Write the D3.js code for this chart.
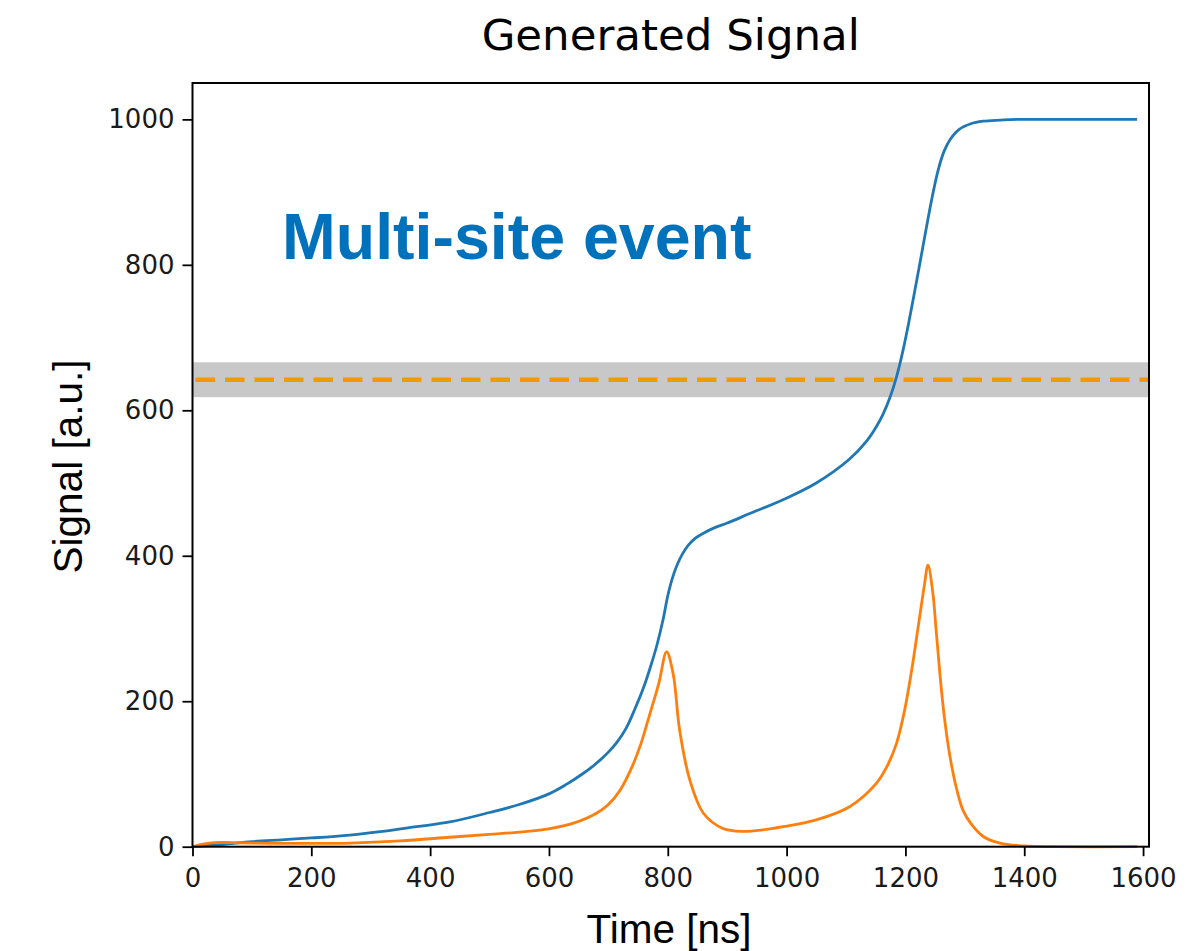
<!DOCTYPE html>
<html>
<head>
<meta charset="utf-8">
<script src="https://cdn.jsdelivr.net/npm/d3@7"></script>
<style>
  html, body { margin: 0; padding: 0; background: #fff; }
  svg { display: block; }
</style>
</head>
<body>
<svg id="chart" width="1189" height="951"></svg>
<script>
// Integrated charge (blue) sampled in time [ns]
const chargeTime = [0, 50, 100, 150, 200, 265, 320, 377, 433, 500, 550, 601, 630, 658, 672, 686, 700, 714, 730, 745, 758, 770, 782, 792, 800, 808, 816, 825, 835, 846, 860, 880, 900, 938, 994, 1050, 1106, 1135, 1150, 1162, 1175, 1185, 1195, 1205, 1215, 1225, 1235, 1245, 1255, 1265, 1275, 1290, 1310, 1331, 1360, 1387, 1450, 1520, 1590];
const chargeSignal = [0, 3, 7, 9.5, 12, 16, 21, 27.5, 34, 47, 58, 73, 86, 101, 109.5, 119, 130, 143, 163, 190, 216, 245, 278, 312, 345, 370, 388, 403, 415, 424, 431, 439, 445, 458, 477, 500, 533, 558, 576, 594, 620, 646, 679, 718, 761, 805, 850, 893, 930, 956, 972, 986, 994, 997.5, 999, 1000, 1000, 1000, 1000];

// Current pulse (orange) sampled in time [ns]
const currentTime = [0, 20, 45, 70, 100, 150, 200, 265, 350, 433, 500, 550, 602, 640, 680, 700, 720, 740, 755, 770, 785, 798, 809, 820, 837, 860, 893, 927, 960, 994, 1050, 1106, 1151, 1170, 1185, 1198, 1210, 1222, 1232, 1238, 1246, 1252, 1258, 1266, 1275, 1286, 1297, 1310, 1331, 1359, 1400, 1450, 1590];
const currentSignal = [0, 4, 6, 5.5, 5, 4.5, 4.5, 5, 8, 13, 17, 20, 25, 32, 46, 58, 78, 110, 142, 183, 225, 268, 238, 160, 92, 46, 25, 21, 23, 27.5, 37, 55, 87, 112, 142, 185, 240, 305, 360, 387, 350, 295, 238, 175, 124, 80, 50, 32, 14, 5, 1, 0, 0];

// Threshold level and its tolerance band
const thresholdLevel = 642;
const thresholdBand = [618, 666];

const xTicks = [0, 200, 400, 600, 800, 1000, 1200, 1400, 1600];
const yTicks = [0, 200, 400, 600, 800, 1000];

const titleText = "Generated Signal";
const xLabelText = "Time [ns]";
const yLabelText = "Signal [a.u.]";
const noteText = "Multi-site event";

const svg = d3.select("#chart");
const margin = { left: 192.5, top: 83, right: 1189 - 1149, bottom: 951 - 846.7 };
const W = 1189 - margin.left - margin.right;
const H = 951 - margin.top - margin.bottom;

const x = d3.scaleLinear().domain([0, 1610]).range([0, W]);
const y = d3.scaleLinear().domain([0, 1050]).range([H, 0]);

const g = svg.append("g").attr("transform", `translate(${margin.left},${margin.top})`);

// Threshold band and dashed level
g.append("rect")
  .attr("x", 0).attr("width", W)
  .attr("y", y(thresholdBand[1]))
  .attr("height", y(thresholdBand[0]) - y(thresholdBand[1]))
  .attr("fill", "#c8c8c8");

g.append("line")
  .attr("x1", 0).attr("x2", W)
  .attr("y1", y(thresholdLevel)).attr("y2", y(thresholdLevel))
  .attr("stroke", "#ee9a00")
  .attr("stroke-width", 4.5)
  .attr("stroke-dasharray", "19.5 10")
  .attr("stroke-dashoffset", -3);

// Signal curves
const smooth = d3.line().x(d => x(d[0])).y(d => y(d[1])).curve(d3.curveCatmullRom.alpha(0.5));

g.append("path")
  .datum(chargeTime.map((t, i) => [t, chargeSignal[i]]))
  .attr("fill", "none")
  .attr("stroke", "#1f77b4")
  .attr("stroke-width", 2.8)
  .attr("stroke-linejoin", "round")
  .attr("d", smooth);

g.append("path")
  .datum(currentTime.map((t, i) => [t, currentSignal[i]]))
  .attr("fill", "none")
  .attr("stroke", "#ff7f0e")
  .attr("stroke-width", 2.8)
  .attr("stroke-linejoin", "round")
  .attr("d", smooth);

// Axes
const xAxis = g.append("g")
  .attr("transform", `translate(0,${H})`)
  .call(d3.axisBottom(x).tickValues(xTicks).tickSize(9.5).tickPadding(12).tickFormat(d3.format("d")));
const yAxis = g.append("g")
  .call(d3.axisLeft(y).tickValues(yTicks).tickSize(10).tickPadding(8).tickFormat(d3.format("d")));

[xAxis, yAxis].forEach(a => {
  a.select(".domain").remove();
  a.selectAll(".tick line").attr("stroke", "#000").attr("stroke-width", 1.8);
  a.selectAll(".tick text")
    .attr("fill", "#1a1a1a")
    .style("font-family", "DejaVu Sans")
    .style("font-size", "26px");
});

// Frame
g.append("rect")
  .attr("x", 0).attr("y", 0).attr("width", W).attr("height", H)
  .attr("fill", "none")
  .attr("stroke", "#000")
  .attr("stroke-width", 2);

// Title and axis labels
svg.append("text")
  .attr("x", margin.left + W / 2).attr("y", 50)
  .attr("text-anchor", "middle")
  .style("font-family", "DejaVu Sans")
  .style("font-size", "43.5px")
  .attr("fill", "#000")
  .text(titleText);

svg.append("text")
  .attr("x", 669).attr("y", 943)
  .attr("text-anchor", "middle")
  .style("font-family", "Liberation Sans")
  .style("font-size", "40.5px")
  .attr("fill", "#000")
  .text(xLabelText);

svg.append("text")
  .attr("transform", `translate(81.7,${466.5}) rotate(-90)`)
  .attr("text-anchor", "middle")
  .style("font-family", "Liberation Sans")
  .style("font-size", "40.5px")
  .attr("fill", "#000")
  .text(yLabelText);

// Annotation
svg.append("text")
  .attr("x", 282).attr("y", 259)
  .style("font-family", "Liberation Sans")
  .style("font-weight", "bold")
  .style("font-size", "64.5px")
  .attr("fill", "#0072bc")
  .text(noteText);
</script>
</body>
</html>
